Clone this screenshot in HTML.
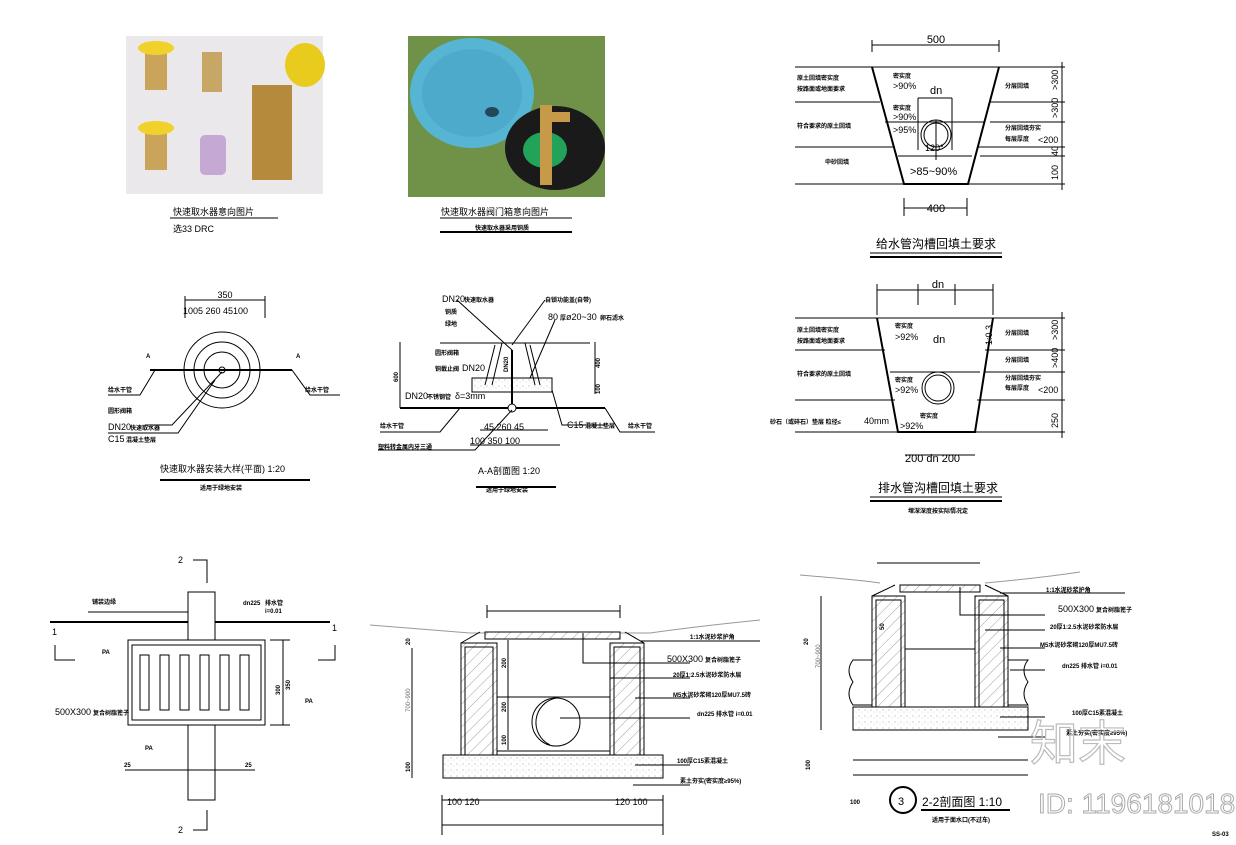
<!DOCTYPE html>
<html><head><meta charset="utf-8"><style>
html,body{margin:0;padding:0;background:#fff;}
svg{display:block;font-family:"Liberation Sans","Noto Sans CJK SC",sans-serif;}
.t{font-size:9px;fill:#000}
.s{font-size:6px;fill:#000;font-weight:bold}
.m{font-size:11px;fill:#000}
.ti{font-size:12px;fill:#000}
</style></head><body>
<svg width="1236" height="845" viewBox="0 0 1236 845" xmlns="http://www.w3.org/2000/svg">
<defs>
<pattern id="h" width="8" height="8" patternUnits="userSpaceOnUse" patternTransform="rotate(45)"><line x1="0" y1="0" x2="0" y2="8" stroke="#777" stroke-width="0.7"/></pattern>
<pattern id="c" width="6" height="6" patternUnits="userSpaceOnUse"><circle cx="1" cy="2" r="0.5" fill="#888"/><circle cx="4" cy="4" r="0.4" fill="#999"/></pattern>
</defs>
<rect width="1236" height="845" fill="#fff"/>
<g stroke="#000" fill="none" stroke-width="1">

<!-- photo 1 -->
<rect x="126" y="36" width="197" height="158" fill="#ebe8ec" stroke="none"/>
<rect x="145" y="45" width="22" height="45" fill="#c9a45a" stroke="none"/>
<ellipse cx="156" cy="48" rx="18" ry="7" fill="#f0d22a" stroke="none"/>
<rect x="202" y="52" width="20" height="40" fill="#c7a765" stroke="none"/>
<rect x="145" y="125" width="22" height="45" fill="#c9a45a" stroke="none"/>
<ellipse cx="156" cy="128" rx="18" ry="7" fill="#f0d22a" stroke="none"/>
<rect x="200" y="135" width="26" height="40" rx="5" fill="#c6a8d4" stroke="none"/>
<ellipse cx="305" cy="65" rx="20" ry="22" fill="#e8cb1c" stroke="none"/>
<rect x="252" y="85" width="40" height="95" fill="#b68a3d" stroke="none"/>
<!-- photo 2 -->
<rect x="408" y="36" width="197" height="161" fill="#6f9148" stroke="none"/>
<ellipse cx="472" cy="93" rx="62" ry="55" fill="#57b5d4" stroke="none"/>
<ellipse cx="472" cy="93" rx="50" ry="44" fill="#4eaacb" stroke="none"/>
<ellipse cx="492" cy="112" rx="7" ry="5" fill="#24475a" stroke="none"/>
<ellipse cx="555" cy="148" rx="50" ry="42" fill="#1a1a1a" stroke="none"/>
<ellipse cx="545" cy="150" rx="22" ry="18" fill="#23a35a" stroke="none"/>
<rect x="540" y="105" width="12" height="80" fill="#c69a48" stroke="none"/>
<rect x="540" y="112" width="30" height="10" fill="#c69a48" stroke="none"/>

<!-- captions top -->
<line x1="170" y1="218" x2="278" y2="218"/>
<line x1="440" y1="218" x2="572" y2="218"/>
<line x1="440" y1="232" x2="572" y2="232" stroke-width="2"/>

<!-- trench 1 -->
<line x1="872" y1="45" x2="999" y2="45"/><line x1="872" y1="40" x2="872" y2="52"/><line x1="999" y1="40" x2="999" y2="52"/>
<line x1="795" y1="67" x2="1065" y2="67"/>
<line x1="795" y1="102" x2="880" y2="102"/><line x1="990" y1="102" x2="1065" y2="102"/>
<line x1="885" y1="122" x2="985" y2="122"/><line x1="990" y1="122" x2="1065" y2="122"/>
<line x1="795" y1="147" x2="895" y2="147"/><line x1="977" y1="147" x2="1065" y2="147"/>
<line x1="898" y1="156" x2="972" y2="156"/><line x1="980" y1="156" x2="1065" y2="156"/>
<line x1="795" y1="184" x2="1065" y2="184"/>
<path d="M872 67 L904 184 L968 184 L999 67" stroke-width="2"/>
<line x1="1062" y1="62" x2="1062" y2="190"/>
<circle cx="936" cy="135" r="15"/><circle cx="936" cy="135" r="12"/>
<line x1="918" y1="98" x2="918" y2="150"/><line x1="952" y1="98" x2="952" y2="150"/>
<line x1="918" y1="98" x2="952" y2="98"/>
<line x1="936" y1="120" x2="936" y2="160"/>
<line x1="904" y1="208" x2="967" y2="208"/><line x1="904" y1="198" x2="904" y2="216"/><line x1="967" y1="198" x2="967" y2="216"/>
<line x1="870" y1="253" x2="1002" y2="253" stroke-width="1"/><line x1="870" y1="257" x2="1002" y2="257" stroke-width="2"/>

<!-- trench 2 -->
<line x1="877" y1="290" x2="993" y2="290"/><line x1="877" y1="284" x2="877" y2="315"/><line x1="993" y1="284" x2="993" y2="315"/>
<line x1="918" y1="284" x2="918" y2="305"/><line x1="955" y1="284" x2="955" y2="305"/>
<line x1="795" y1="318" x2="1065" y2="318"/>
<line x1="795" y1="350" x2="885" y2="350"/><line x1="985" y1="350" x2="1065" y2="350"/>
<line x1="890" y1="372" x2="980" y2="372"/><line x1="985" y1="372" x2="1065" y2="372"/>
<line x1="795" y1="400" x2="895" y2="400"/><line x1="977" y1="400" x2="1065" y2="400"/>
<line x1="795" y1="432" x2="1065" y2="432"/>
<path d="M877 318 L898 432 L975 432 L993 318" stroke-width="2"/>
<line x1="1062" y1="312" x2="1062" y2="438"/>
<circle cx="938" cy="388" r="16"/><circle cx="938" cy="388" r="13"/>
<line x1="905" y1="455" x2="975" y2="455"/>
<line x1="870" y1="497" x2="1002" y2="497"/><line x1="870" y1="501" x2="1002" y2="501" stroke-width="2"/>

<!-- plan mid-left -->
<line x1="185" y1="300" x2="265" y2="300"/>
<line x1="185" y1="296" x2="185" y2="318"/><line x1="265" y1="296" x2="265" y2="318"/>
<line x1="150" y1="370" x2="292" y2="370" stroke-width="2"/>
<circle cx="222" cy="370" r="38"/><circle cx="222" cy="370" r="28"/><circle cx="222" cy="370" r="18"/><circle cx="222" cy="370" r="3"/>
<path d="M222 372 L172 425 L145 425"/><path d="M215 380 L178 433 L108 433"/>
<path d="M155 370 L140 395 L108 395"/><path d="M292 370 L310 395 L340 395"/>
<line x1="160" y1="480" x2="310" y2="480" stroke-width="2"/>

<!-- A-A section -->
<line x1="440" y1="343" x2="590" y2="343"/>
<path d="M440 343 L502 343 L492 385 M525 343 L535 385"/>
<path d="M495 345 L485 385 M530 345 L540 385"/>
<rect x="472" y="378" width="80" height="14" fill="url(#c)"/>
<line x1="512" y1="350" x2="512" y2="410" stroke-width="2"/>
<line x1="400" y1="408" x2="605" y2="408" stroke-width="2"/>
<circle cx="512" cy="408" r="4" fill="#fff"/>
<line x1="400" y1="342" x2="400" y2="408"/>
<line x1="595" y1="342" x2="595" y2="394"/>
<path d="M457 300 L512 350"/><path d="M545 300 L512 345"/>
<path d="M555 320 L530 378"/><path d="M552 390 L562 425 L605 425"/>
<path d="M460 408 L440 432 L380 432"/><path d="M605 408 L620 432 L655 432"/>
<path d="M512 410 L475 450 L378 450"/>
<line x1="480" y1="430" x2="548" y2="430"/><line x1="470" y1="445" x2="560" y2="445"/>
<line x1="476" y1="487" x2="556" y2="487" stroke-width="2"/>

<!-- bottom left plan -->
<line x1="50" y1="622" x2="330" y2="622" stroke-width="2"/>
<rect x="188" y="592" width="27" height="208" fill="#fff"/>
<rect x="128" y="640" width="137" height="85" fill="#fff"/>
<rect x="132" y="645" width="129" height="75"/>
<g stroke-width="1">
<rect x="140" y="655" width="9" height="55"/><rect x="160" y="655" width="9" height="55"/><rect x="180" y="655" width="9" height="55"/>
<rect x="200" y="655" width="9" height="55"/><rect x="220" y="655" width="9" height="55"/><rect x="240" y="655" width="9" height="55"/>
</g>
<path d="M55 645 L55 660 L75 660"/><path d="M335 645 L335 660 L318 660"/>
<path d="M193 560 L207 560 L207 583"/><path d="M193 830 L207 830 L207 810"/>
<line x1="283" y1="640" x2="283" y2="725"/><line x1="270" y1="640" x2="290" y2="640"/><line x1="270" y1="725" x2="290" y2="725"/>
<line x1="125" y1="770" x2="255" y2="770"/>
<line x1="88" y1="612" x2="188" y2="612"/>

<!-- bottom middle section -->
<path d="M370 625 Q430 630 470 633 L485 633 M620 633 L650 633 Q700 626 760 620" stroke="#999"/>
<line x1="487" y1="611" x2="620" y2="611"/>
<line x1="487" y1="605" x2="487" y2="618"/><line x1="620" y1="605" x2="620" y2="618"/>
<rect x="461" y="643" width="36" height="112" fill="url(#h)"/>
<rect x="610" y="643" width="34" height="112" fill="url(#h)"/>
<rect x="465" y="647" width="28" height="108"/>
<rect x="614" y="647" width="26" height="108"/>
<path d="M497 751 L610 751"/>
<rect x="485" y="632" width="135" height="7" fill="url(#h)"/>
<path d="M461 643 L480 632 M644 643 L625 632"/>
<circle cx="556" cy="722" r="24"/><path d="M556 698 A25 25 0 0 0 550 745"/>
<rect x="443" y="755" width="220" height="23" fill="url(#c)"/>
<line x1="412" y1="648" x2="412" y2="778"/>
<line x1="508" y1="640" x2="508" y2="750"/>
<line x1="497" y1="697" x2="610" y2="697"/>
<line x1="442" y1="800" x2="663" y2="800"/><line x1="442" y1="825" x2="663" y2="825"/>
<line x1="442" y1="795" x2="442" y2="835"/><line x1="663" y1="795" x2="663" y2="835"/>
<path d="M583 633 L583 663 L690 663"/><path d="M610 678 L690 678"/>
<path d="M635 698 L690 698"/><path d="M560 718 L690 718"/>
<path d="M635 765 L690 765"/><path d="M633 785 L690 785"/>
<line x1="640" y1="641" x2="760" y2="641"/>

<!-- bottom right section -->
<path d="M800 575 Q860 580 880 583 M985 583 Q1040 578 1080 572" stroke="#999"/>
<line x1="877" y1="563" x2="980" y2="563"/>
<rect x="872" y="596" width="33" height="111" fill="url(#h)"/>
<rect x="975" y="596" width="33" height="111" fill="url(#h)"/>
<rect x="876" y="600" width="25" height="107"/>
<rect x="979" y="600" width="25" height="107"/>
<rect x="900" y="585" width="80" height="7" fill="url(#h)"/>
<path d="M872 596 L895 585 M1008 596 L985 585"/>
<path d="M872 660 L853 660 Q845 670 853 682 Q845 694 853 705 L872 705"/>
<path d="M1008 660 L1028 660 Q1020 670 1028 682 Q1020 694 1028 705 L1008 705"/>
<rect x="853" y="707" width="175" height="23" fill="url(#c)"/>
<line x1="821" y1="596" x2="821" y2="730"/>
<line x1="905" y1="649" x2="975" y2="649"/>
<line x1="853" y1="760" x2="1028" y2="760"/><line x1="853" y1="775" x2="1028" y2="775"/>
<path d="M960 587 L960 615 L1045 615"/><path d="M985 630 L1045 630"/>
<path d="M1000 648 L1045 648"/><path d="M1010 670 L1045 670"/>
<path d="M1000 717 L1045 717"/><path d="M998 737 L1045 737"/>
<line x1="1000" y1="593" x2="1125" y2="593"/>
<circle cx="903" cy="800" r="13" stroke-width="2"/>
<line x1="921" y1="810" x2="1010" y2="810" stroke-width="2"/>
</g>

<!-- text -->
<g>
<text x="173" y="215" class="t">快速取水器意向图片</text>
<text x="173" y="232" class="t">选33 DRC</text>
<text x="441" y="215" class="t">快速取水器阀门箱意向图片</text>
<text x="475" y="230" class="s">快速取水器采用铜质</text>

<text x="936" y="43" class="m" text-anchor="middle">500</text>
<text x="797" y="80" class="s">原土回填密实度</text><text x="797" y="91" class="s">按路面或地面要求</text>
<text x="797" y="128" class="s">符合要求的原土回填</text>
<text x="825" y="164" class="s">中砂回填</text>
<text x="893" y="78" class="s">密实度</text><text x="893" y="89" class="t">&gt;90%</text>
<text x="893" y="110" class="s">密实度</text><text x="893" y="120" class="t">&gt;90%</text>
<text x="893" y="133" class="t">&gt;95%</text>
<text x="930" y="94" class="m">dn</text>
<text x="925" y="151" class="t">120°</text>
<text x="910" y="175" class="m">&gt;85~90%</text>
<text x="1005" y="88" class="s">分层回填</text>
<text x="1005" y="130" class="s">分层回填夯实</text><text x="1005" y="141" class="s">每层厚度</text>
<text x="1038" y="143" class="t">&lt;200</text>
<text transform="translate(1058,90) rotate(-90)" class="t">&gt;300</text>
<text transform="translate(1058,118) rotate(-90)" class="t">&gt;300</text>
<text transform="translate(1058,156) rotate(-90)" class="t">40</text>
<text transform="translate(1058,180) rotate(-90)" class="t">100</text>
<text x="936" y="212" class="m" text-anchor="middle">400</text>
<text x="936" y="248" class="ti" text-anchor="middle">给水管沟槽回填土要求</text>

<text x="938" y="288" class="m" text-anchor="middle">dn</text>
<text x="797" y="332" class="s">原土回填密实度</text><text x="797" y="343" class="s">按路面或地面要求</text>
<text x="797" y="376" class="s">符合要求的原土回填</text>
<text x="770" y="424" class="s">砂石（或碎石）垫层 粒径≤</text><text x="864" y="424" class="t">40mm</text>
<text x="895" y="328" class="s">密实度</text><text x="895" y="340" class="t">&gt;92%</text>
<text x="895" y="382" class="s">密实度</text><text x="895" y="393" class="t">&gt;92%</text>
<text x="920" y="418" class="s">密实度</text><text x="900" y="429" class="t">&gt;92%</text>
<text x="933" y="343" class="m">dn</text>
<text transform="translate(992,345) rotate(-90)" class="t">1:0.3</text>
<text x="1005" y="335" class="s">分层回填</text><text x="1005" y="362" class="s">分层回填</text>
<text x="1005" y="380" class="s">分层回填夯实</text><text x="1005" y="390" class="s">每层厚度</text>
<text x="1038" y="393" class="t">&lt;200</text>
<text transform="translate(1058,340) rotate(-90)" class="t">&gt;300</text>
<text transform="translate(1058,368) rotate(-90)" class="t">&gt;400</text>
<text transform="translate(1058,428) rotate(-90)" class="t">250</text>
<text x="905" y="462" class="m">200 dn 200</text>
<text x="938" y="492" class="ti" text-anchor="middle">排水管沟槽回填土要求</text>
<text x="938" y="513" class="s" text-anchor="middle">埋深深度按实际情况定</text>

<text x="225" y="298" class="t" text-anchor="middle">350</text>
<text x="183" y="314" class="t">1005  260  45100</text>
<text x="146" y="358" class="s">A</text><text x="296" y="358" class="s">A</text>
<text x="108" y="392" class="s">给水干管</text><text x="305" y="392" class="s">给水干管</text>
<text x="108" y="413" class="s">圆形阀箱</text>
<text x="108" y="430" class="t">DN20</text><text x="130" y="430" class="s">快速取水器</text>
<text x="108" y="442" class="t">C15</text><text x="126" y="442" class="s">混凝土垫层</text>
<text x="160" y="472" class="t">快速取水器安装大样(平面) 1:20</text>
<text x="200" y="490" class="s">适用于绿地安装</text>

<text x="442" y="302" class="t">DN20</text><text x="464" y="302" class="s">快速取水器</text>
<text x="545" y="302" class="s">自锁功能盖(自带)</text>
<text x="445" y="314" class="s">铜质</text><text x="445" y="326" class="s">绿地</text>
<text x="548" y="320" class="t">80</text><text x="560" y="320" class="s">厚</text><text x="566" y="320" class="t">ø20~30</text><text x="600" y="320" class="s">卵石滤水</text>
<text x="435" y="355" class="s">圆形阀箱</text>
<text x="435" y="371" class="s">铜截止阀</text><text x="462" y="371" class="t">DN20</text>
<text x="405" y="399" class="t">DN20</text><text x="427" y="399" class="s">不锈钢管</text><text x="455" y="399" class="t">δ=3mm</text>
<text transform="translate(398,382) rotate(-90)" class="s">600</text>
<text transform="translate(600,368) rotate(-90)" class="s">400</text>
<text transform="translate(600,394) rotate(-90)" class="s">100</text>
<text transform="translate(508,372) rotate(-90)" class="s">DN20</text>
<text x="380" y="428" class="s">给水干管</text><text x="628" y="428" class="s">给水干管</text>
<text x="567" y="428" class="t">C15</text><text x="585" y="428" class="s">混凝土垫层</text>
<text x="378" y="449" class="s">塑料转金属内牙三通</text>
<text x="484" y="430" class="t">45  260  45</text>
<text x="470" y="444" class="t">100   350   100</text>
<text x="478" y="474" class="t">A-A剖面图 1:20</text>
<text x="486" y="492" class="s">适用于绿地安装</text>

<text x="178" y="563" class="t">2</text><text x="178" y="833" class="t">2</text>
<text x="52" y="635" class="t">1</text><text x="332" y="631" class="t">1</text>
<text x="243" y="605" class="s">dn225</text><text x="265" y="605" class="s">排水管</text><text x="265" y="613" class="s">i=0.01</text>
<text x="92" y="604" class="s">铺装边缘</text>
<text x="102" y="654" class="s">PA</text><text x="305" y="703" class="s">PA</text><text x="145" y="750" class="s">PA</text>
<text x="55" y="715" class="t">500X300</text><text x="93" y="715" class="s">复合树脂篦子</text>
<text transform="translate(280,695) rotate(-90)" class="s">300</text>
<text transform="translate(290,690) rotate(-90)" class="s">350</text>
<text x="124" y="767" class="s">25</text><text x="245" y="767" class="s">25</text>

<text transform="translate(410,645) rotate(-90)" class="s">20</text>
<text transform="translate(410,712) rotate(-90)" font-size="6" fill="#666">700~900</text>
<text transform="translate(410,772) rotate(-90)" class="s">100</text>
<text transform="translate(506,668) rotate(-90)" class="s">200</text>
<text transform="translate(506,712) rotate(-90)" class="s">200</text>
<text transform="translate(506,745) rotate(-90)" class="s">100</text>
<text x="690" y="639" class="s">1:1水泥砂浆护角</text>
<text x="667" y="662" class="t">500X300</text><text x="705" y="662" class="s">复合树脂篦子</text>
<text x="673" y="677" class="s">20厚1:2.5水泥砂浆防水层</text>
<text x="673" y="697" class="s">M5水泥砂浆砌120厚MU7.5砖</text>
<text x="697" y="716" class="s">dn225 排水管 i=0.01</text>
<text x="677" y="763" class="s">100厚C15素混凝土</text>
<text x="680" y="783" class="s">素土夯实(密实度≥95%)</text>
<text x="447" y="805" class="t">100  120</text><text x="615" y="805" class="t">120  100</text>

<text transform="translate(808,645) rotate(-90)" class="s">20</text>
<text transform="translate(820,668) rotate(-90)" font-size="6" fill="#666">700~900</text>
<text transform="translate(810,770) rotate(-90)" class="s">100</text>
<text transform="translate(884,630) rotate(-90)" class="s">50</text>
<text x="1046" y="592" class="s">1:1水泥砂浆护角</text>
<text x="1058" y="612" class="t">500X300</text><text x="1096" y="612" class="s">复合树脂篦子</text>
<text x="1050" y="629" class="s">20厚1:2.5水泥砂浆防水层</text>
<text x="1040" y="647" class="s">M5水泥砂浆砌120厚MU7.5砖</text>
<text x="1062" y="668" class="s">dn225 排水管 i=0.01</text>
<text x="1072" y="715" class="s">100厚C15素混凝土</text>
<text x="1066" y="735" class="s">素土夯实(密实度≥95%)</text>
<text x="850" y="804" class="s">100</text>
<text x="898" y="805" class="m">3</text>
<text x="922" y="806" class="ti">2-2剖面图 1:10</text>
<text x="932" y="822" class="s">适用于面水口(不过车)</text>
<text x="1212" y="836" class="s">SS-03</text>
<text x="1030" y="760" font-size="48" fill="none" stroke="#bbb" stroke-width="1.2">知末</text>
<text x="1038" y="813" font-size="28" fill="none" stroke="#aaa" stroke-width="1">ID: 1196181018</text>
</g>
</svg>
</body></html>
